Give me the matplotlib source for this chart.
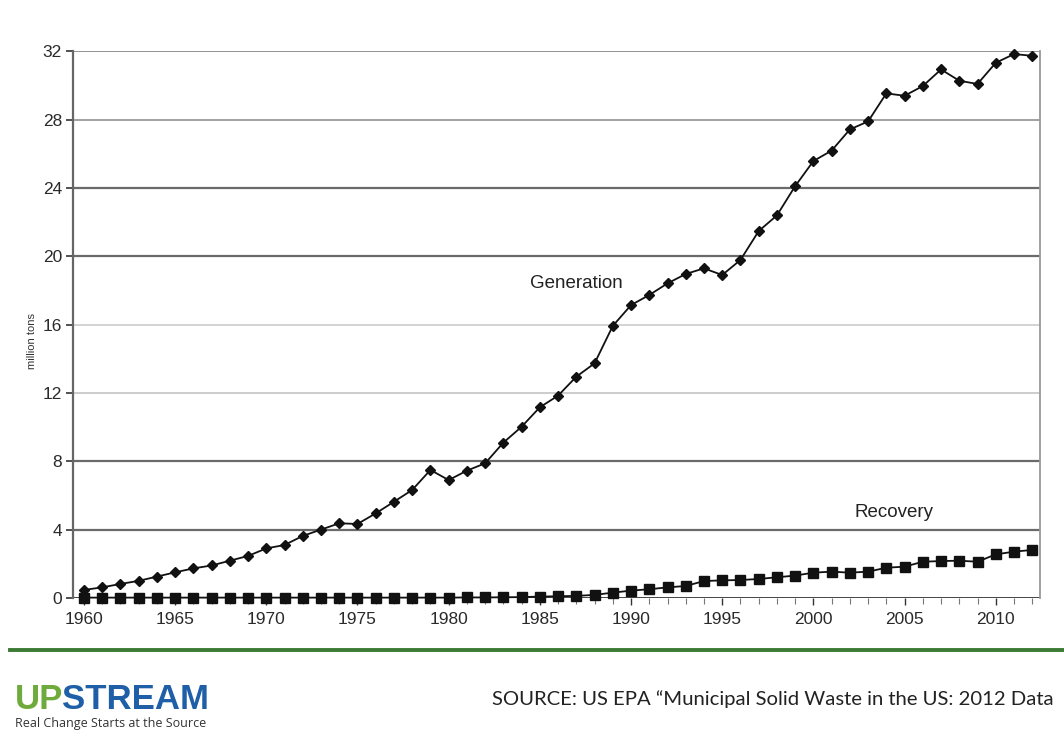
import matplotlib.pyplot as plt
import numpy as np

years = list(range(1960, 2013))

# million tons per year
generation = [0.47, 0.62, 0.82, 1.00, 1.25, 1.50, 1.73, 1.90, 2.18, 2.46,
              2.90, 3.10, 3.63, 4.00, 4.37, 4.33, 4.95, 5.63, 6.32, 7.49,
              6.90, 7.45, 7.88, 9.09, 10.02, 11.16, 11.84, 12.95, 13.73, 15.92,
              17.14, 17.73, 18.41, 18.96, 19.29, 18.90, 19.78, 21.47, 22.39, 24.10,
              25.57, 26.18, 27.42, 27.89, 29.53, 29.39, 29.96, 30.93, 30.27, 30.08,
              31.32, 31.83, 31.73]
recovery = [0.02, 0.02, 0.02, 0.02, 0.02, 0.02, 0.02, 0.02, 0.02, 0.02,
            0.02, 0.02, 0.02, 0.02, 0.02, 0.02, 0.02, 0.02, 0.02, 0.02,
            0.02, 0.03, 0.03, 0.04, 0.05, 0.08, 0.10, 0.12, 0.18, 0.31,
            0.43, 0.51, 0.62, 0.70, 0.99, 1.03, 1.05, 1.11, 1.21, 1.31,
            1.48, 1.54, 1.48, 1.54, 1.77, 1.83, 2.12, 2.16, 2.18, 2.12,
            2.55, 2.71, 2.81]

y_ticks = [0, 4, 8, 12, 16, 20, 24, 28, 32]
x_labels = [1960, 1965, 1970, 1975, 1980, 1985, 1990, 1995, 2000, 2005, 2010]

plt.rcParams['font.family'] = ['Liberation Sans', 'DejaVu Sans']

fig = plt.figure(figsize=(10.64, 7.31), dpi=100)
ax = fig.add_axes([0.0686, 0.182, 0.9084, 0.748])

# horizontal grid, alternating heavy and light rules
rules = {4: '#6a6a6a', 8: '#6a6a6a', 20: '#6a6a6a', 24: '#6a6a6a',
         12: '#c8c8c8', 16: '#d0d0d0', 28: '#9a9a9a', 32: '#8a8a8a'}
for v, c in rules.items():
    ax.axhline(v, color=c, lw=1.6 if c == '#6a6a6a' else 1.3, zorder=1)
ax.axhline(0, color='#444444', lw=1.4, zorder=1)

ax.plot(years, generation, color='#111111', lw=1.3, marker='D', ms=5.5,
        zorder=3, clip_on=False)
ax.plot(years, recovery, color='#111111', lw=1.3, marker='s', ms=7,
        zorder=3, clip_on=False)

ax.set_xlim(1959.4, 2012.4)
ax.set_ylim(0, 32)
ax.set_yticks(y_ticks)
ax.set_xticks(x_labels)
ax.set_xticks(years, minor=True)
ax.tick_params(axis='both', labelsize=12.5, colors='#333333', labelcolor='#2a2a2a')
ax.tick_params(axis='y', length=5, width=1.2, pad=3)
ax.tick_params(axis='x', which='major', length=5, width=1.0, pad=5)
ax.tick_params(axis='x', which='minor', length=4, width=0.8, color='#777777')

for side in ['top', 'bottom']:
    ax.spines[side].set_visible(False)
ax.spines['left'].set_color('#666666')
ax.spines['left'].set_linewidth(1.6)
ax.spines['right'].set_color('#999999')
ax.spines['right'].set_linewidth(1.3)

ax.set_ylabel('million tons', fontsize=8, color='#333333')
ax.yaxis.set_label_coords(-0.037, 0.47)

ax.text(1987.0, 18.4, 'Generation', fontsize=13.5, color='#222222',
        ha='center', va='center')
ax.text(2004.4, 5.0, 'Recovery', fontsize=13.5, color='#222222',
        ha='center', va='center')

# footer: rule, logo and source line
fig.add_artist(plt.Line2D([0.009, 1.0], [0.111, 0.111], color='#3c7a36', lw=2.8))
up = fig.text(0.014, 0.03, 'UP', fontsize=25, fontweight='bold', color='#6fab3c')
fig.canvas.draw()
bb = up.get_window_extent().transformed(fig.transFigure.inverted())
fig.text(bb.x1 - 0.001, 0.03, 'STREAM', fontsize=25, fontweight='bold',
         color='#1f5fa8')
fig.text(0.014, 0.002, 'Real Change Starts at the Source', fontsize=9,
         color='#333333', family='Open Sans', va='bottom')
fig.text(0.462, 0.035, 'SOURCE: US EPA \u201cMunicipal Solid Waste in the US: 2012 Data',
         fontsize=14.6, color='#222222', family='Lato')

fig.savefig('out.png', dpi=100)
